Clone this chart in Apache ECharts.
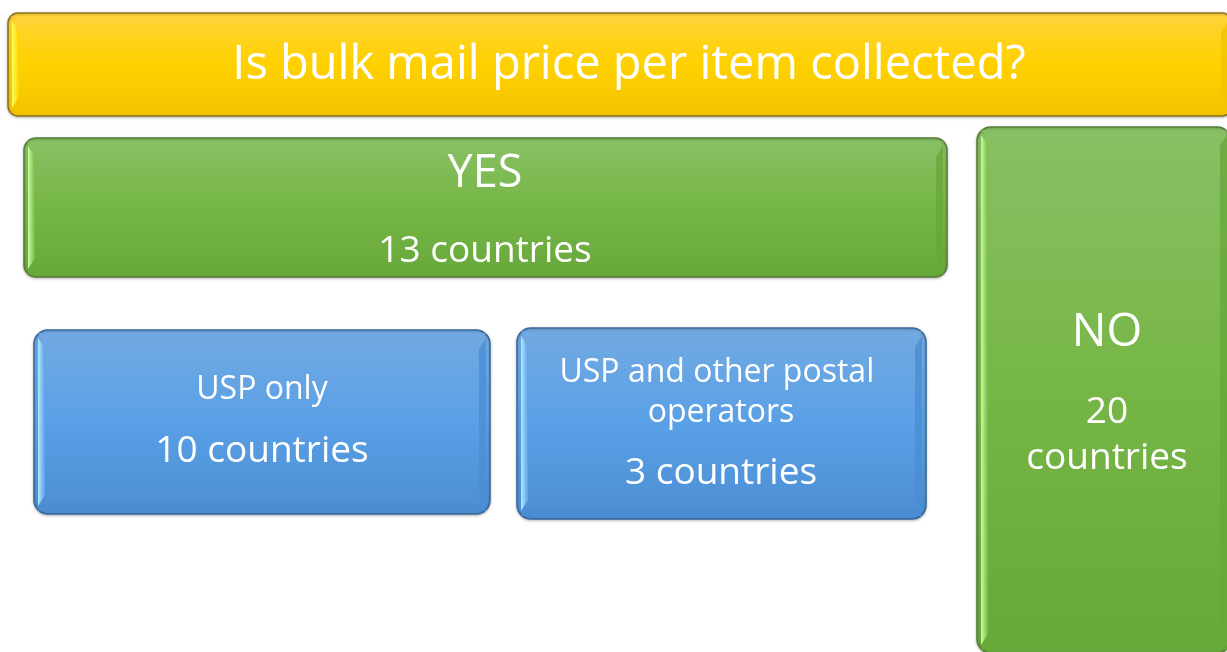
<!DOCTYPE html>
<html>
<head>
<meta charset="utf-8">
<script src="https://cdn.jsdelivr.net/npm/echarts@6/dist/echarts.min.js"></script>
<style>
  html, body { margin: 0; padding: 0; background: #fff; }
  #chart { width: 1227px; height: 652px; }
</style>
</head>
<body>
<div id="chart"></div>
<script>
// data
const question = 'Is bulk mail price per item collected?';
const answers = ['YES', 'NO'];
const answerCounts = [13, 20];
const yesSplit = ['USP only', 'USP and other postal operators'];
const yesSplitCounts = [10, 3];

// colour schemes: top, middle, bottom, border, highlight
const schemes = {
  yellow: ['#ffd43a', '#ffd100', '#f3c300', '#8f711c', '#ffff5a'],
  green: ['#88c065', '#76b646', '#68a83b', '#547c35', '#c6ff9c'],
  blue: ['#72aae2', '#5aa0e6', '#4b8dd2', '#39679a', '#aeeaff']
};

const font = '"Open Sans", "Liberation Sans", sans-serif';

function box(x, y, w, h, r, s) {
  const c = schemes[s];
  const b = 11;
  const items = [];
  items.push({
    type: 'rect',
    shape: { x: x, y: y, width: w, height: h, r: r },
    style: {
      fill: new echarts.graphic.LinearGradient(0, 0, 0, 1, [
        { offset: 0, color: c[0] },
        { offset: 0.5, color: c[1] },
        { offset: 1, color: c[2] }
      ]),
      stroke: c[3],
      lineWidth: 1.5,
      shadowBlur: 3,
      shadowColor: 'rgba(0,0,0,0.25)',
      shadowOffsetY: 1
    }
  });
  // bottom bevel band
  items.push({
    type: 'polygon',
    shape: { points: [[x + b, y + h - b], [x + w - b, y + h - b], [x + w - 3, y + h - 3], [x + 3, y + h - 3]] },
    style: { fill: c[2], opacity: 0.9 }
  });
  // top bevel band
  items.push({
    type: 'polygon',
    shape: { points: [[x + 3, y + 3], [x + w - 3, y + 3], [x + w - b, y + b], [x + b, y + b]] },
    style: { fill: c[0], opacity: 0.6 }
  });
  // left highlight
  items.push({
    type: 'polygon',
    shape: { points: [[x + 4, y + 8], [x + b, y + b + 8], [x + b, y + h - b - 8], [x + 4, y + h - 8]] },
    style: {
      fill: new echarts.graphic.LinearGradient(0, 0, 1, 0, [
        { offset: 0, color: c[4] },
        { offset: 1, color: c[1] }
      ])
    }
  });
  // right shade
  items.push({
    type: 'polygon',
    shape: { points: [[x + w - 4, y + 8], [x + w - b, y + b + 8], [x + w - b, y + h - b - 8], [x + w - 4, y + h - 8]] },
    style: { fill: c[2], opacity: 0.8 }
  });
  return items;
}

function txt(x, y, text, size, width, lh) {
  return {
    type: 'text',
    x: x,
    y: y,
    style: {
      text: text,
      fill: '#fff',
      font: size + 'px ' + font,
      align: 'center',
      verticalAlign: 'middle',
      width: width,
      overflow: width ? 'break' : 'none',
      lineHeight: lh || size * 1.3
    }
  };
}

const chart = echarts.init(document.getElementById('chart'));
const elements = [].concat(
  box(8, 13, 1224, 103, 10, 'yellow'),
  box(24, 138, 923, 139, 12, 'green'),
  box(977, 127, 254, 526, 14, 'green'),
  box(34, 330, 456, 184, 14, 'blue'),
  box(517, 328, 409, 191, 14, 'blue'),
  [
    txt(629, 66, question, 47),
    txt(485, 174, answers[0], 45),
    txt(485, 251, answerCounts[0] + ' countries', 37),
    txt(262, 390, yesSplit[0], 32),
    txt(262, 451, yesSplitCounts[0] + ' countries', 37),
    txt(721, 393, yesSplit[1], 32, 360, 40),
    txt(721, 473, yesSplitCounts[1] + ' countries', 37),
    txt(1107, 333, answers[1], 46),
    txt(1107, 435, answerCounts[1] + '\ncountries', 37, 220, 46)
  ]
);

chart.setOption({
  animation: false,
  graphic: { elements: elements }
});
</script>
</body>
</html>
